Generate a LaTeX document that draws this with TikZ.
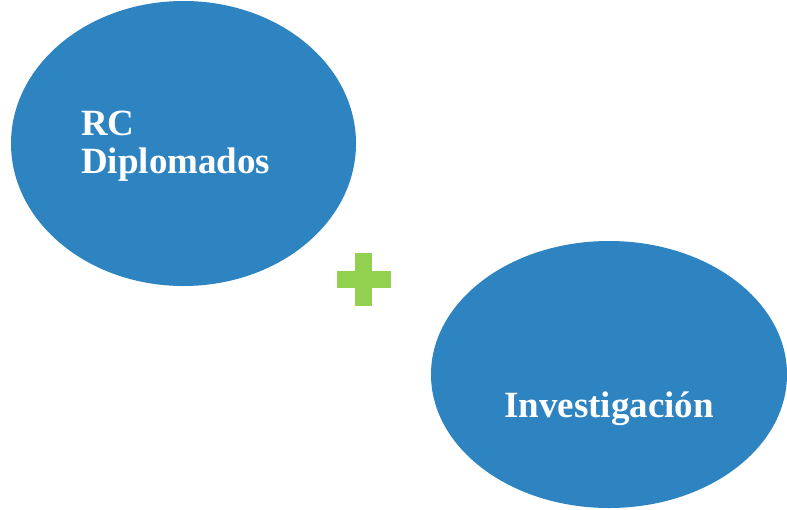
\documentclass[tikz,border=0pt]{standalone}
\usepackage{fontspec}
\setmainfont{Liberation Serif}
\usetikzlibrary{shapes.geometric}
\definecolor{bubbleBlue}{HTML}{2E83C1}
\definecolor{plusGreen}{HTML}{92D050}

\begin{document}
\begin{tikzpicture}
[x=1pt,y=-1pt,
  bubbleDecorate/.style={shape=ellipse,fill=bubbleBlue,draw=none,inner sep=0pt},
  textDecorate/.style={text=white,font=\bfseries\fontsize{37}{38}\selectfont,inner sep=0pt},
  plusDecorate/.style={fill=plusGreen,draw=none,inner sep=0pt}]
\useasboundingbox (0,0) rectangle (787,509);
\clip (0,0) rectangle (787,509);
%% bubbles
\node (rc) at (183.5,143.5) [bubbleDecorate,minimum width=345pt,minimum height=285pt] {};
\node (inv) at (609,374.5) [bubbleDecorate,minimum width=356pt,minimum height=267pt] {};
%% texts
\node (rcText) at (81,135) [textDecorate,anchor=base west] {RC};
\node (dipText) at (81,173) [textDecorate,anchor=base west] {Diplomados};
\node (invText) at (609,417.5) [textDecorate,anchor=base] {Investigación};
%% plus sign
\node (plusH) at (363.5,279.5) [plusDecorate,minimum width=54pt,minimum height=17pt] {};
\node (plusV) at (363.5,279.5) [plusDecorate,minimum width=17pt,minimum height=53pt] {};
\end{tikzpicture}
\end{document}
